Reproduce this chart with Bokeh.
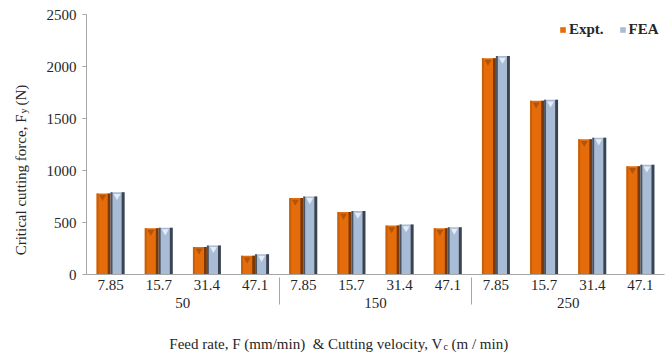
import math
from bokeh.plotting import figure
from bokeh.layouts import row, column
from bokeh.models import (ColumnDataSource, FactorRange, Range1d, SingleIntervalTicker,
                          Legend, LegendItem, Label)
from bokeh.transform import dodge
from bokeh.embed import file_html
from bokeh.resources import INLINE

# ---- data ----
feed_rates = ["50", "150", "250"]
velocities = ["7.85", "15.7", "31.4", "47.1"]
expt = [780, 445, 265, 180, 735, 600, 470, 445, 2080, 1670, 1300, 1040]
fea = [790, 450, 280, 195, 750, 610, 480, 455, 2100, 1680, 1315, 1055]
y_ticks_interval = 500
y_max = 2500

factors = [(f, v) for f in feed_rates for v in velocities]
bevel = 35  # decorative bevel marker depth (data units)
src = ColumnDataSource(dict(
    x=factors, expt=expt, fea=fea,
    expt_b=[e - bevel for e in expt], fea_b=[f - bevel for f in fea],
))

FONT = "Liberation Serif"
AX = "#A6A6A6"
TXT = "#262626"

YW = 38  # width of the strip that carries the y title
xr = FactorRange(*factors, range_padding=0, group_padding=0, factor_padding=0)
p = figure(x_range=xr, y_range=Range1d(0, y_max), frame_width=578, frame_height=260,
           output_backend="svg", toolbar_location=None,
           min_border_left=48, min_border_right=2, min_border_top=14, min_border_bottom=58)
p.outline_line_color = None
p.xgrid.grid_line_color = None
p.ygrid.grid_line_color = None

W = 0.29
off_e, off_f = -W / 2, W / 2
ORANGE, ORANGE_D = "#E46C0A", "#7A3804"
BLUE, BLUE_D, BLUE_L = "#A9BCD5", "#3A4350", "#E4ECF6"

r_e = p.vbar(x=dodge("x", off_e, range=xr), top="expt", width=W, source=src,
             fill_color=ORANGE, line_color=None)
p.vbar(x=dodge("x", off_e + W / 2 - 0.03, range=xr), top="expt", width=0.06, source=src,
       fill_color=ORANGE_D, line_color=None)
p.vbar(x=dodge("x", off_e - W / 2 + 0.02, range=xr), top="expt", width=0.04, source=src,
       fill_color="#C85E08", line_color=None)
p.scatter(x=dodge("x", off_e - 0.02, range=xr), y="expt_b", source=src, marker="inverted_triangle",
          size=7, fill_color="#B4540A", line_color=None)

r_f = p.vbar(x=dodge("x", off_f, range=xr), top="fea", width=W, source=src,
             fill_color=BLUE, line_color=None)
p.vbar(x=dodge("x", off_f + W / 2 - 0.03, range=xr), top="fea", width=0.06, source=src,
       fill_color=BLUE_D, line_color=None)
p.vbar(x=dodge("x", off_f - W / 2 + 0.02, range=xr), top="fea", width=0.04, source=src,
       fill_color="#4A5563", line_color=None)
p.scatter(x=dodge("x", off_f - 0.01, range=xr), y="fea_b", source=src, marker="inverted_triangle",
          size=7, fill_color=BLUE_L, line_color=None)

# ---- axes ----
p.yaxis.ticker = SingleIntervalTicker(interval=y_ticks_interval)
p.yaxis.minor_tick_line_color = None
p.yaxis.major_tick_in = 0
p.yaxis.major_tick_out = 4
p.yaxis.major_tick_line_color = AX
p.yaxis.axis_line_color = AX
p.yaxis.major_label_text_font = FONT
p.yaxis.major_label_text_font_size = "15px"
p.yaxis.major_label_text_color = TXT
p.yaxis.major_label_standoff = 6

xa = p.xaxis[0]
xa.axis_line_color = AX
xa.major_tick_line_color = None
xa.major_tick_out = 0
xa.minor_tick_line_color = None
xa.major_label_text_font = FONT
xa.major_label_text_font_size = "15px"
xa.major_label_text_color = TXT
xa.major_label_standoff = 5
# a blank second line under each velocity label pushes the group labels down
xa.major_label_overrides = {v: v + "\n\u00a0" for v in velocities}
xa.group_text_font = FONT
xa.group_text_font_size = "15px"
xa.group_text_font_style = "normal"
xa.group_text_color = TXT
xa.separator_line_color = AX
xa.separator_line_width = 1

# ---- legend ----
legend = Legend(items=[LegendItem(label="Expt.", renderers=[r_e]),
                       LegendItem(label="FEA", renderers=[r_f])],
                orientation="horizontal", location=(473, 236),
                label_text_font=FONT, label_text_font_style="bold",
                label_text_font_size="15px", label_text_color=TXT,
                glyph_width=7, glyph_height=7, label_standoff=3, spacing=15,
                padding=0, margin=0, border_line_color=None, background_fill_alpha=0,
                label_height=14)
p.add_layout(legend)

# ---- helper strips carrying the axis titles (subscripts need separate labels) ----
def strip(w, h):
    f = figure(width=w, height=h, output_backend="svg", toolbar_location=None,
               x_axis_type=None, y_axis_type=None, min_border=0,
               min_border_left=0, min_border_right=0, min_border_top=0, min_border_bottom=0)
    f.outline_line_color = None
    f.xgrid.grid_line_color = None
    f.ygrid.grid_line_color = None
    return f

def lab(text, x, y, size="15px", align="left", angle=0.0):
    return Label(text=text, x=x, y=y, x_units="screen", y_units="screen",
                 text_font=FONT, text_font_size=size, text_color=TXT,
                 text_align=align, text_baseline="middle", angle=angle)

XH = 22
xs = strip(628, XH)
xa_anchor, xy = 356, XH / 2
xs.add_layout(lab("Feed rate, F (mm/min)\u00a0 & Cutting velocity, V", xa_anchor, xy, align="right"))
xs.add_layout(lab("c", xa_anchor + 1, xy - 3, size="10px"))
xs.add_layout(lab("(m / min)", xa_anchor + 9, xy))

YH = 340
ys = strip(YW, YH)
ya_anchor, yx = YH - 114, 20
rot = math.pi / 2
ys.add_layout(lab("Critical cutting force, F", yx, ya_anchor, align="right", angle=rot))
ys.add_layout(lab("y", yx + 3, ya_anchor + 1, size="10px", angle=rot))
ys.add_layout(lab("(N)", yx, ya_anchor + 9, angle=rot))

layout = row(ys, column(p, xs, spacing=0), spacing=0)
open("out.html", "w").write(file_html(layout, INLINE))
